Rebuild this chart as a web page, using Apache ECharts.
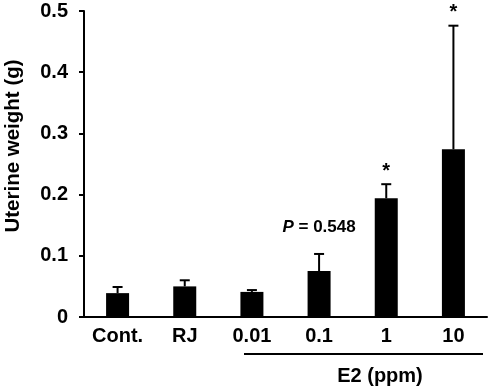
<!DOCTYPE html>
<html>
<head>
<meta charset="utf-8">
<script src="https://cdn.jsdelivr.net/npm/echarts@6/dist/echarts.min.js"></script>
<style>
  html, body { margin: 0; padding: 0; background: #fff; }
  #chart { width: 494px; height: 388px; }
</style>
</head>
<body>
<div id="chart"></div>
<script>
const groups = ['Cont.', 'RJ', '0.01', '0.1', '1', '10']
const meanWeight = [0.039, 0.050, 0.041, 0.075, 0.194, 0.274]
const sdWeight = [0.010, 0.010, 0.003, 0.028, 0.023, 0.202]
const notes = ['', '', '', 'P', '*', '*']
const yTicks = { min: 0, max: 0.5, step: 0.1 }

const font = "'Liberation Sans', Arial, sans-serif"
const chart = echarts.init(document.getElementById('chart'))

function drawError(params, api) {
  const i = params.dataIndex
  const base = api.coord([i, meanWeight[i]])
  const top = api.coord([i, meanWeight[i] + sdWeight[i]])
  const children = [
    { type: 'line', shape: { x1: base[0], y1: base[1], x2: top[0], y2: top[1] }, style: { stroke: '#000', lineWidth: 2 } },
    { type: 'line', shape: { x1: top[0] - 5, y1: top[1], x2: top[0] + 5, y2: top[1] }, style: { stroke: '#000', lineWidth: 2 } }
  ]
  if (notes[i] === '*') {
    children.push({
      type: 'text',
      style: { x: top[0], y: top[1] - 13, text: '*', font: 'bold 20px ' + font, fill: '#000', align: 'center', verticalAlign: 'middle' }
    })
  } else if (notes[i] === 'P') {
    children.push({
      type: 'text',
      style: {
        x: top[0], y: top[1] - 27, text: '{i|P} = 0.548', font: 'bold 17px ' + font, fill: '#000',
        align: 'center', verticalAlign: 'middle',
        rich: { i: { fontStyle: 'italic', fontWeight: 'bold', fontSize: 17, fontFamily: font } }
      }
    })
  }
  return { type: 'group', children }
}

chart.setOption({
  animation: false,
  grid: { left: 84, right: 7, top: 11, bottom: 71 },
  xAxis: {
    type: 'category',
    data: groups,
    axisLine: { lineStyle: { color: '#000', width: 2 } },
    axisTick: { length: 5, lineStyle: { color: '#000', width: 2 } },
    axisLabel: { color: '#000', fontFamily: font, fontWeight: 'bold', fontSize: 20, margin: 9 }
  },
  yAxis: {
    type: 'value',
    min: yTicks.min,
    max: yTicks.max,
    interval: yTicks.step,
    splitLine: { show: false },
    axisLine: { show: true, lineStyle: { color: '#000', width: 2 } },
    axisTick: { show: true, length: 5, lineStyle: { color: '#000', width: 2 } },
    axisLabel: { color: '#000', fontFamily: font, fontWeight: 'bold', fontSize: 20, margin: 16 }
  },
  graphic: [
    {
      type: 'text', x: 13, y: 146, rotation: Math.PI / 2,
      style: { text: 'Uterine weight (g)', font: 'bold 20.5px ' + font, fill: '#000', align: 'center', verticalAlign: 'middle' }
    },
    { type: 'line', shape: { x1: 244, y1: 354, x2: 483, y2: 354 }, style: { stroke: '#000', lineWidth: 2 } },
    {
      type: 'text', x: 380, y: 376,
      style: { text: 'E2 (ppm)', font: 'bold 20px ' + font, fill: '#000', align: 'center', verticalAlign: 'middle' }
    }
  ],
  series: [
    {
      type: 'bar',
      data: meanWeight,
      barWidth: 23,
      itemStyle: { color: '#000' }
    },
    {
      type: 'custom',
      renderItem: drawError,
      data: groups.map((g, i) => [i, meanWeight[i] + sdWeight[i]]),
      z: 3
    }
  ]
})
</script>
</body>
</html>
